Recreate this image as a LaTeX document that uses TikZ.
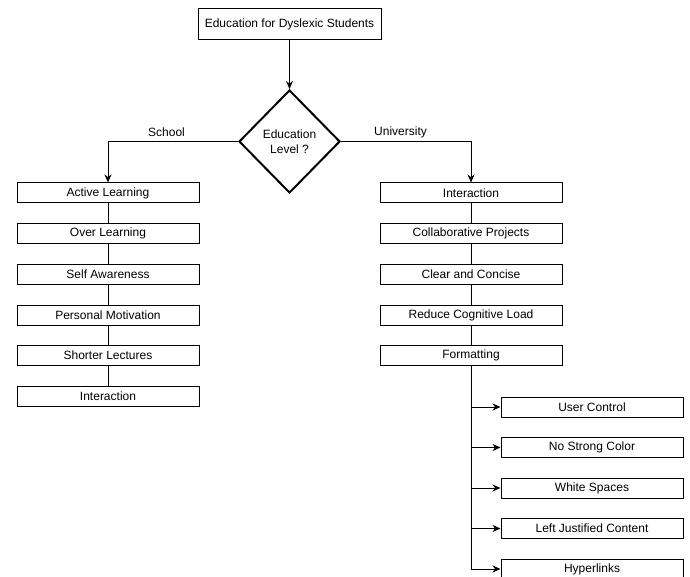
\documentclass[tikz,border=0pt]{standalone}
\usepackage{fontspec}
\setmainfont{Liberation Sans}
\usetikzlibrary{shapes.geometric,arrows.meta}
\begin{document}
\begin{tikzpicture}[x=1pt,y=-1pt,
  box/.style={draw=black,line width=1pt,minimum width=182pt,minimum height=20pt,inner sep=0pt,font=\fontsize{12}{14}\selectfont,anchor=center},
  topbox/.style={draw=black,line width=1pt,minimum width=183pt,minimum height=31pt,inner sep=0pt,font=\fontsize{12}{14}\selectfont},
  dec/.style={diamond,draw=black,line width=2pt,minimum width=101pt,minimum height=103pt,inner sep=0pt,align=center,font=\fontsize{12}{15}\selectfont},
  arr/.style={line width=1pt,-{Stealth[length=8pt,width=7pt]}},
  ln/.style={line width=1pt},
  lab/.style={font=\fontsize{12}{14}\selectfont,inner sep=0pt}]
\useasboundingbox (0,0) rectangle (690,577);
\node[topbox] (top) at (289.5,24.5) {Education for Dyslexic Students};
\node[dec] (dia) at (289.5,141.5) {Education\\Level ?};
% left column
\node[box] (l1) at (108,193) {Active Learning};
\node[box] (l2) at (108,233.5) {Over Learning};
\node[box] (l3) at (108,274) {Self Awareness};
\node[box] (l4) at (108,315) {Personal Motivation};
\node[box] (l5) at (108,355) {Shorter Lectures};
\node[box] (l6) at (108,396) {Interaction};
% right column
\node[box] (r1) at (471,193) {Interaction};
\node[box] (r2) at (471,233.5) {Collaborative Projects};
\node[box] (r3) at (471,274) {Clear and Concise};
\node[box] (r4) at (471,315) {Reduce Cognitive Load};
\node[box] (r5) at (471,355) {Formatting};
% formatting sub items
\node[box] (s1) at (592,407) {User Control};
\node[box] (s2) at (592,447.5) {No Strong Color};
\node[box] (s3) at (592,488) {White Spaces};
\node[box] (s4) at (592,528.5) {Left Justified Content};
\node[box] (s5) at (592,569) {Hyperlinks};
% connectors
\draw[arr] (top) -- (dia);
\draw[arr] (dia.west) -| node[lab,pos=0.275,yshift=9pt] {School} (l1.north);
\draw[arr] (dia.east) -| node[lab,pos=0.229,yshift=9pt] {University} (r1.north);
\draw[ln] (l1) -- (l2) (l2) -- (l3) (l3) -- (l4) (l4) -- (l5) (l5) -- (l6);
\draw[ln] (r1) -- (r2) (r2) -- (r3) (r3) -- (r4) (r4) -- (r5);
\coordinate (trunk) at (r5.south);
\draw[arr] (trunk) |- (s1.west);
\draw[arr] (trunk) |- (s2.west);
\draw[arr] (trunk) |- (s3.west);
\draw[arr] (trunk) |- (s4.west);
\draw[arr] (trunk) |- (s5.west);
\end{tikzpicture}
\end{document}
